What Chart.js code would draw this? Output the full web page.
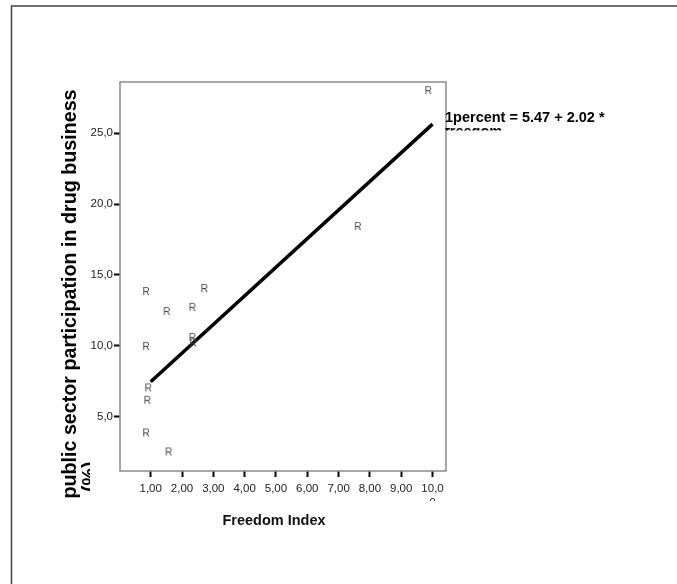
<!DOCTYPE html>
<html>
<head>
<meta charset="utf-8">
<script src="https://cdn.jsdelivr.net/npm/chart.js@4/dist/chart.umd.min.js"></script>
<style>
html,body{margin:0;padding:0;background:#fff;}
#wrap{width:677px;height:584px;position:relative;}
</style>
</head>
<body>
<div id="wrap"><canvas id="c" width="677" height="584"></canvas></div>
<script>
// ---- data ----
const freedomX = [0.85, 1.51, 2.33, 2.71, 2.33, 2.35, 0.85, 0.92, 0.89, 0.85, 1.57, 9.86, 7.61];
const percentY = [13.80, 12.39, 12.68, 14.01, 10.56, 10.17, 9.93, 7.00, 6.13, 3.83, 2.49, 27.96, 18.38];
const fitX = [1.00, 10.00];
const fitY = [7.47, 25.63];
const xTickValues = [1, 2, 3, 4, 5, 6, 7, 8, 9, 10];
const xTickLabels = ['1,00', '2,00', '3,00', '4,00', '5,00', '6,00', '7,00', '8,00', '9,00', '10,0'];
const yTickValues = [5, 10, 15, 20, 25];
const yTickLabels = ['5,0', '10,0', '15,0', '20,0', '25,0'];
const xTitle = 'Freedom Index';
const yTitle = 'public sector participation in drug business';
const yTitleOverflow = '(%)';
const fitLabel = '1percent = 5.47 + 2.02 *';
const fitLabelOverflow = 'freedom';

const FONT = '"Liberation Sans", Arial, sans-serif';

// "R" marker glyph used as the point style
const rMark = document.createElement('canvas');
rMark.width = 12; rMark.height = 12;
(function(){
  const g = rMark.getContext('2d');
  g.font = '10px ' + FONT;
  g.fillStyle = '#444';
  g.textAlign = 'center';
  g.textBaseline = 'middle';
  g.fillText('R', 6, 6.5);
})();

const decor = {
  id: 'decor',
  beforeDraw(chart) {
    const ctx = chart.ctx;
    ctx.save();
    ctx.fillStyle = '#fff';
    ctx.fillRect(0, 0, chart.width, chart.height);
    // outer frame (top and left)
    ctx.strokeStyle = '#444';
    ctx.lineWidth = 1.5;
    ctx.beginPath();
    ctx.moveTo(11.5, chart.height);
    ctx.lineTo(11.5, 6);
    ctx.lineTo(chart.width, 6);
    ctx.stroke();
    ctx.restore();
  },
  beforeDatasetsDraw(chart) {
    const ctx = chart.ctx, a = chart.chartArea;
    ctx.save();
    ctx.strokeStyle = '#8a8a8a';
    ctx.lineWidth = 1.5;
    ctx.strokeRect(a.left, a.top, a.right - a.left, a.bottom - a.top);
    ctx.restore();
  },
  afterDraw(chart) {
    const ctx = chart.ctx;
    const xs = chart.scales.x;
    ctx.save();
    // x title
    ctx.fillStyle = '#111';
    ctx.font = 'bold 14.5px ' + FONT;
    ctx.textAlign = 'center';
    ctx.textBaseline = 'middle';
    ctx.fillText(xTitle, 274, 520.5);
    // y title (rotated) and its clipped second line
    ctx.save();
    ctx.translate(71, 294);
    ctx.rotate(-Math.PI / 2);
    ctx.font = 'bold 19.7px ' + FONT;
    ctx.fillStyle = '#000';
    ctx.textAlign = 'center';
    ctx.textBaseline = 'middle';
    ctx.fillText(yTitle, 0, 0);
    ctx.restore();
    ctx.save();
    ctx.beginPath();
    ctx.rect(0, 0, 90, chart.height);
    ctx.clip();
    ctx.translate(91, 500);
    ctx.rotate(-Math.PI / 2);
    ctx.font = 'bold 19.7px ' + FONT;
    ctx.fillStyle = '#000';
    ctx.textAlign = 'left';
    ctx.textBaseline = 'middle';
    ctx.fillText(yTitleOverflow, 8, 0);
    ctx.restore();
    // fit label and clipped second line
    ctx.font = 'bold 14.5px ' + FONT;
    ctx.fillStyle = '#000';
    ctx.textAlign = 'left';
    ctx.textBaseline = 'alphabetic';
    ctx.fillText(fitLabel, 445, 122);
    ctx.save();
    ctx.beginPath();
    ctx.rect(440, 128, 200, 2.5);
    ctx.clip();
    ctx.fillText(fitLabelOverflow, 445, 135.8);
    ctx.restore();
    // clipped overflow of last x tick label
    ctx.save();
    ctx.beginPath();
    ctx.rect(400, 496, 60, 5);
    ctx.clip();
    ctx.font = '11px ' + FONT;
    ctx.fillStyle = '#222';
    ctx.textAlign = 'center';
    ctx.textBaseline = 'middle';
    ctx.fillText('0', xs.getPixelForValue(xTickValues[xTickValues.length - 1]), 502.5);
    ctx.restore();
    ctx.restore();
  }
};

new Chart(document.getElementById('c'), {
  data: {
    datasets: [
      {
        type: 'line',
        data: fitX.map((x, i) => ({x: x, y: fitY[i]})),
        borderColor: '#000',
        borderWidth: 3.5,
        pointRadius: 0,
        fill: false,
        tension: 0,
        order: 2
      },
      {
        type: 'scatter',
        data: freedomX.map((x, i) => ({x: x, y: percentY[i]})),
        pointStyle: rMark,
        pointRadius: 6,
        order: 1
      }
    ]
  },
  options: {
    responsive: false,
    animation: false,
    events: [],
    layout: { padding: { left: 0, top: 82, right: 231, bottom: 0 } },
    plugins: { legend: { display: false }, tooltip: { enabled: false } },
    scales: {
      x: {
        type: 'linear',
        min: 0.02,
        max: 10.43,
        afterBuildTicks(s) { s.ticks = xTickValues.map(v => ({value: v})); },
        afterFit(s) { s.height = 113; },
        border: { display: false },
        grid: { display: true, drawOnChartArea: false, drawTicks: true, tickLength: 6, tickWidth: 2, tickColor: '#000' },
        ticks: {
          autoSkip: false, maxRotation: 0, minRotation: 0, padding: 5,
          color: '#222', font: { family: FONT, size: 11.5 },
          callback(v, i) { return xTickLabels[i]; }
        }
      },
      y: {
        type: 'linear',
        min: 1.18,
        max: 28.6,
        afterBuildTicks(s) { s.ticks = yTickValues.map(v => ({value: v})); },
        afterFit(s) { s.width = 120; },
        border: { display: false },
        grid: { display: true, drawOnChartArea: false, drawTicks: true, tickLength: 6, tickWidth: 2, tickColor: '#000' },
        ticks: {
          autoSkip: false, padding: 1,
          color: '#222', font: { family: FONT, size: 11.5 },
          callback(v, i) { return yTickLabels[i]; }
        }
      }
    }
  },
  plugins: [decor]
});
</script>
</body>
</html>
